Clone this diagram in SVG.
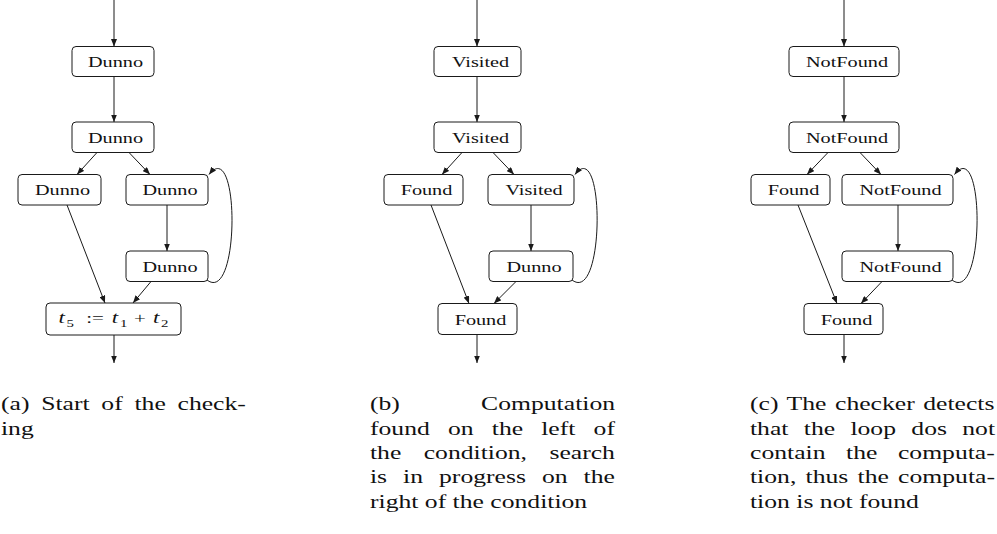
<svg xmlns="http://www.w3.org/2000/svg" width="997" height="534" viewBox="0 0 997 534">
<defs>
<marker id="ah" viewBox="0 0 10 8" refX="10" refY="4" markerWidth="7.5" markerHeight="6" markerUnits="userSpaceOnUse" orient="auto">
<path d="M0,0 L10,4 L0,8 Z" fill="#1a1a1a"/>
</marker>
<style>
.box{fill:#fff;stroke:#1a1a1a;stroke-width:1}
.e{fill:none;stroke:#1a1a1a;stroke-width:1;marker-end:url(#ah)}
.lbl{font-family:"Liberation Serif","Times New Roman",serif;font-size:15px;fill:#111;text-anchor:middle}
.m{font-family:"Liberation Serif","Times New Roman",serif;font-size:15.5px;fill:#111}
.it{font-style:italic;font-size:17px}
.sub{font-size:11px}
.cap{font-family:"Liberation Serif","Times New Roman",serif;font-size:19px;fill:#111}
</style>
</defs>
<rect width="997" height="534" fill="#fff"/>

<g id="connectors">
<!-- panel a -->
<path class="e" d="M114,0 V46.5"/>
<path class="e" d="M114,76.5 V122"/>
<path class="e" d="M97,152.5 L77,174.5"/>
<path class="e" d="M129,152.5 L150,174.5"/>
<path class="e" d="M67,205 L105,303"/>
<path class="e" d="M167,205 V251"/>
<path class="e" d="M151,281.5 L133,303"/>
<path class="e" d="M207,280 C240,305 240,135 209,174.5"/>
<path class="e" d="M114,335 V363"/>
<!-- panel b -->
<path class="e" d="M477,0 V46.5"/>
<path class="e" d="M477,76.5 V122"/>
<path class="e" d="M462,152.5 L442,174.5"/>
<path class="e" d="M493,152.5 L514,174.5"/>
<path class="e" d="M431,205 L469,303.5"/>
<path class="e" d="M531,205 V251"/>
<path class="e" d="M516,281.5 L494,303.5"/>
<path class="e" d="M572,280 C605,305 605,135 575,174.5"/>
<path class="e" d="M477,334.5 V363"/>
<!-- panel c -->
<path class="e" d="M844,0 V46.5"/>
<path class="e" d="M844,76.5 V122"/>
<path class="e" d="M828,152.5 L807,174.5"/>
<path class="e" d="M860,152.5 L881,174.5"/>
<path class="e" d="M798,205 L837,303.5"/>
<path class="e" d="M898,205 V251"/>
<path class="e" d="M882,281.5 L861,303.5"/>
<path class="e" d="M952,280 C985,305 985,135 954.5,174.5"/>
<path class="e" d="M844,334.5 V363"/>
</g>

<!-- panel a nodes -->
<g id="a1"><rect class="box" x="72" y="46.5" width="82" height="30" rx="4"/><text class="lbl" transform="translate(115.5,66.5) scale(1.35,1)">Dunno</text></g>
<g id="a2"><rect class="box" x="72" y="122" width="82" height="30.5" rx="4"/><text class="lbl" transform="translate(115.5,142.5) scale(1.35,1)">Dunno</text></g>
<g id="a3"><rect class="box" x="18" y="174.5" width="83" height="30.5" rx="4"/><text class="lbl" transform="translate(62.5,195) scale(1.35,1)">Dunno</text></g>
<g id="a4"><rect class="box" x="126" y="174.5" width="82" height="30.5" rx="4"/><text class="lbl" transform="translate(170,195) scale(1.35,1)">Dunno</text></g>
<g id="a5"><rect class="box" x="126" y="251" width="82" height="30.5" rx="4"/><text class="lbl" transform="translate(170,271.5) scale(1.35,1)">Dunno</text></g>
<g id="a6"><rect class="box" x="46" y="303" width="135" height="32" rx="4"/>
<text class="m" transform="translate(58.5,323) scale(1.35,1)"><tspan class="it" x="0" y="0">t</tspan><tspan class="sub" x="6" y="3.5">5</tspan><tspan x="20.5" y="0">:=</tspan><tspan class="it" x="39.5" y="0">t</tspan><tspan class="sub" x="45.5" y="3.5">1</tspan><tspan x="56" y="0">+</tspan><tspan class="it" x="70" y="0">t</tspan><tspan class="sub" x="76" y="3.5">2</tspan></text></g>

<!-- panel b nodes -->
<g id="b1"><rect class="box" x="434" y="46.5" width="87" height="30" rx="4"/><text class="lbl" transform="translate(480.5,66.5) scale(1.35,1)">Visited</text></g>
<g id="b2"><rect class="box" x="434" y="122" width="87" height="30.5" rx="4"/><text class="lbl" transform="translate(480.5,142.5) scale(1.35,1)">Visited</text></g>
<g id="b3"><rect class="box" x="384" y="174.5" width="79" height="30.5" rx="4"/><text class="lbl" transform="translate(426.5,195) scale(1.35,1)">Found</text></g>
<g id="b4"><rect class="box" x="488" y="174.5" width="86" height="30.5" rx="4"/><text class="lbl" transform="translate(534,195) scale(1.35,1)">Visited</text></g>
<g id="b5"><rect class="box" x="489" y="251" width="84" height="30.5" rx="4"/><text class="lbl" transform="translate(534,271.5) scale(1.35,1)">Dunno</text></g>
<g id="b6"><rect class="box" x="438" y="303.5" width="79" height="31" rx="4"/><text class="lbl" transform="translate(480.5,324.5) scale(1.35,1)">Found</text></g>

<!-- panel c nodes -->
<g id="c1"><rect class="box" x="789" y="46.5" width="110" height="30" rx="4"/><text class="lbl" transform="translate(847,66.5) scale(1.35,1)">NotFound</text></g>
<g id="c2"><rect class="box" x="789" y="122" width="110" height="30.5" rx="4"/><text class="lbl" transform="translate(847,142.5) scale(1.35,1)">NotFound</text></g>
<g id="c3"><rect class="box" x="751" y="174.5" width="79" height="30.5" rx="4"/><text class="lbl" transform="translate(793.5,195) scale(1.35,1)">Found</text></g>
<g id="c4"><rect class="box" x="842" y="174.5" width="111" height="30.5" rx="4"/><text class="lbl" transform="translate(900.5,195) scale(1.35,1)">NotFound</text></g>
<g id="c5"><rect class="box" x="842" y="251" width="111" height="30.5" rx="4"/><text class="lbl" transform="translate(900.5,271.5) scale(1.35,1)">NotFound</text></g>
<g id="c6"><rect class="box" x="804" y="303.5" width="79" height="31" rx="4"/><text class="lbl" transform="translate(846.5,324.5) scale(1.35,1)">Found</text></g>

<!-- captions -->
<g id="caption-a" class="cap" transform="translate(1,0) scale(1.35,1)">
<text x="0" y="410.5" word-spacing="3.95">(a) Start of the check-</text>
<text x="0" y="434.8">ing</text>
</g>
<g id="caption-b" class="cap" transform="translate(370,0) scale(1.35,1)">
<text x="0" y="410.5">(b)</text>
<text x="181.5" y="410.5" text-anchor="end">Computation</text>
<text x="0" y="434.8" word-spacing="8.7">found on the left of</text>
<text x="0" y="459.1" word-spacing="11.85">the condition, search</text>
<text x="0" y="483.4" word-spacing="7.1">is in progress on the</text>
<text x="0" y="507.7">right of the condition</text>
</g>
<g id="caption-c" class="cap" transform="translate(750,0) scale(1.35,1)">
<text x="0" y="410.5" word-spacing="1.6">(c) The checker detects</text>
<text x="0" y="434.8" word-spacing="6.6">that the loop dos not</text>
<text x="0" y="459.1" word-spacing="10.5">contain the computa-</text>
<text x="0" y="483.4" word-spacing="2.1">tion, thus the computa-</text>
<text x="0" y="507.7">tion is not found</text>
</g>
</svg>
